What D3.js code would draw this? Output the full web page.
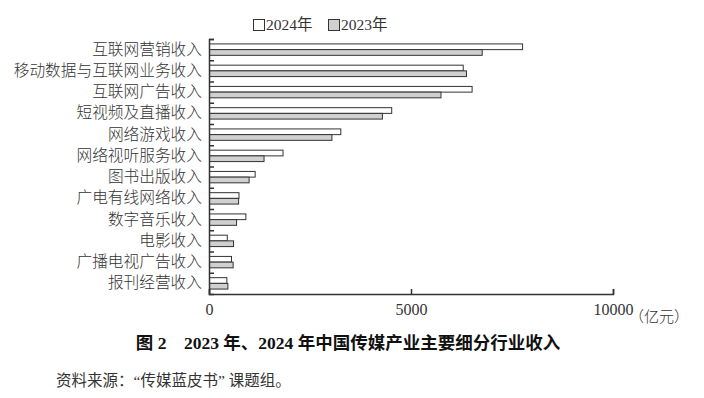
<!DOCTYPE html>
<html>
<head>
<meta charset="utf-8">
<script src="https://cdn.jsdelivr.net/npm/d3@7"></script>
<style>
  body { margin: 0; background: #fff; }
  svg { display: block; font-family: 'Liberation Serif', 'Noto Sans CJK SC', serif; }
</style>
</head>
<body>
<svg class="chart" width="704" height="398"></svg>
<script>
const categories = [
  '互联网营销收入', '移动数据与互联网业务收入', '互联网广告收入', '短视频及直播收入',
  '网络游戏收入', '网络视听服务收入', '图书出版收入', '广电有线网络收入',
  '数字音乐收入', '电影收入', '广播电视广告收入', '报刊经营收入'
]
const series = ['2024年', '2023年']
const values2024 = [7750, 6280, 6500, 4510, 3250, 1820, 1130, 730, 900, 440, 545, 430]
const values2023 = [6750, 6360, 5730, 4280, 3030, 1350, 980, 720, 670, 595, 585, 455]
const xTicks = [0, 5000, 10000]
const unitLabel = '（亿元）'
const title = '图 2　2023 年、2024 年中国传媒产业主要细分行业收入'
const source = '资料来源：“传媒蓝皮书” 课题组。'

const data = categories.map((c, i) => ({ category: c, '2024年': values2024[i], '2023年': values2023[i] }))
const fills = { '2024年': '#ffffff', '2023年': '#d0d0d0' }

const svg = d3.select('.chart')
const margin = { top: 39, left: 209, right: 91, bottom: 104 }
const innerHeight = 398 - margin.top - margin.bottom

const g = svg.append('g').attr('transform', `translate(${margin.left},${margin.top})`)

const xScale = d3.scaleLinear().domain([0, 10000]).range([0, 404])
const yScale = d3.scaleBand().domain(categories).range([0, innerHeight])
const yInner = d3.scaleBand().domain(series).range([0, 11.4])
const yEdges = d3.scaleLinear().domain([0, categories.length]).range([0, innerHeight])

// bars
const rows = g.selectAll('.row')
  .data(data)
  .enter()
  .append('g')
  .attr('transform', d => `translate(0,${yScale(d.category) + yScale.bandwidth() / 2 - 5.7})`)

rows.selectAll('rect')
  .data(d => series.map(s => ({ key: s, value: d[s] })))
  .enter()
  .append('rect')
  .attr('x', 0.5)
  .attr('y', d => yInner(d.key))
  .attr('width', d => xScale(d.value))
  .attr('height', yInner.bandwidth())
  .attr('fill', d => fills[d.key])
  .attr('stroke', '#333')
  .attr('stroke-width', 1)

// left axis with inner ticks at category edges
const edgeAxis = g.append('g')
  .call(d3.axisLeft(yEdges).tickValues(d3.range(0, categories.length)).tickSize(-5))
edgeAxis.selectAll('.tick text').remove()
edgeAxis.select('.domain').attr('stroke', '#333').attr('stroke-width', 1.5)
edgeAxis.selectAll('.tick line').attr('stroke', '#333').attr('stroke-width', 1.5)

const labelAxis = g.append('g')
  .call(d3.axisLeft(yScale).tickSize(0).tickPadding(7))
labelAxis.select('.domain').remove()
labelAxis.selectAll('text')
  .attr('font-size', 15.7)
  .attr('font-family', "'Noto Sans CJK SC', sans-serif")
  .attr('font-weight', 300)
  .attr('fill', '#333')

// bottom axis
const xAxis = g.append('g')
  .attr('transform', `translate(0,${innerHeight})`)
  .call(d3.axisBottom(xScale).tickValues(xTicks).tickSize(-5).tickPadding(10).tickFormat(d3.format('d')))
xAxis.select('.domain').attr('stroke', '#333').attr('stroke-width', 1.5)
xAxis.selectAll('.tick line').attr('stroke', '#333').attr('stroke-width', 1.5)
xAxis.selectAll('text')
  .attr('font-size', 16)
  .attr('font-family', "'Liberation Serif', serif")
  .attr('fill', '#333')

g.append('text')
  .attr('x', xScale(10000) + 16)
  .attr('y', innerHeight + 17)
  .attr('font-size', 15)
  .attr('font-family', "'Noto Sans CJK SC', sans-serif")
  .attr('font-weight', 300)
  .attr('fill', '#333')
  .attr('dy', '0.71em')
  .text(unitLabel)

// legend
const legend = svg.append('g').attr('transform', 'translate(253,19)')
const legendItems = legend.selectAll('g')
  .data(series)
  .enter()
  .append('g')
  .attr('transform', (d, i) => `translate(${i * 75},0)`)

legendItems.append('rect')
  .attr('x', 0.5)
  .attr('y', 0.5)
  .attr('width', 11)
  .attr('height', 11)
  .attr('fill', d => fills[d])
  .attr('stroke', '#333')

legendItems.append('text')
  .attr('x', 13)
  .attr('y', 6)
  .attr('dy', '0.35em')
  .attr('font-size', 15.5)
  .attr('fill', '#333')
  .text(d => d)

// title and source
svg.append('text')
  .attr('x', 348)
  .attr('y', 349)
  .attr('text-anchor', 'middle')
  .attr('font-size', 17.5)
  .attr('font-weight', 'bold')
  .attr('fill', '#111')
  .text(title)

svg.append('text')
  .attr('x', 56)
  .attr('y', 386)
  .attr('font-size', 15.5)
  .attr('fill', '#333')
  .text(source)
</script>
</body>
</html>
